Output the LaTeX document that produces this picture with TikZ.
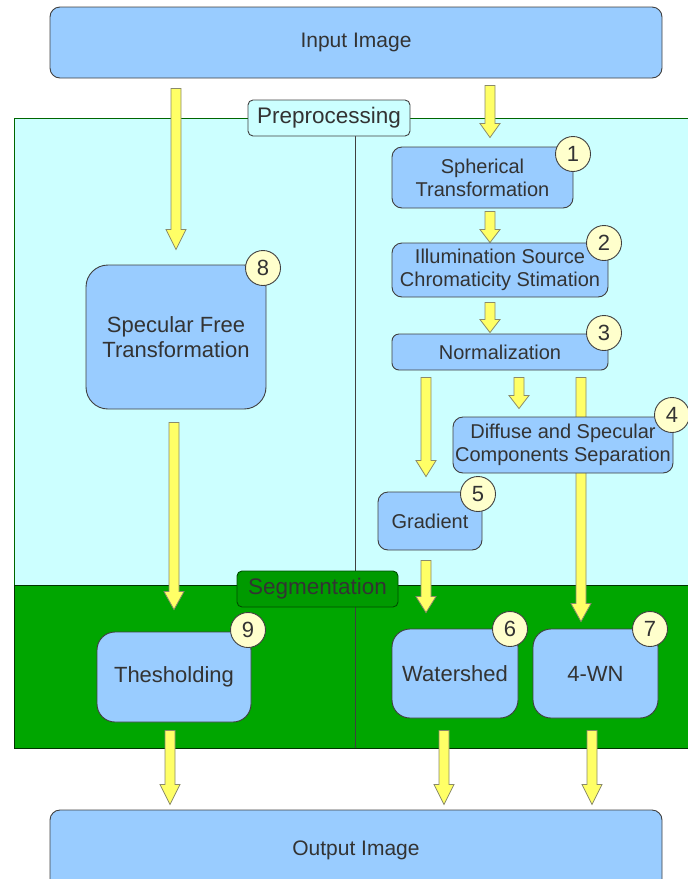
\documentclass[tikz,border=0pt]{standalone}
\usepackage{fontspec}
\setmainfont{Liberation Sans}
\definecolor{boxblue}{HTML}{99CCFF}
\definecolor{prepcyan}{HTML}{CCFFFF}
\definecolor{seggreen}{HTML}{00A600}
\definecolor{labgreen}{HTML}{009A00}
\definecolor{linegray}{HTML}{404040}
\definecolor{numyellow}{HTML}{FFFFCC}
\definecolor{arrowyellow}{HTML}{FFFF66}
\definecolor{arrowedge}{HTML}{8A8A6A}
\definecolor{textgray}{HTML}{333333}
\usetikzlibrary{calc,positioning}
\pgfdeclarelayer{regions}
\pgfdeclarelayer{arrows}
\pgfsetlayers{regions,arrows,main}
\tikzset{
  stage/.style={draw=linegray,line width=0.9pt,fill=boxblue,rounded corners=10pt,text=textgray,
    align=center,inner sep=0pt,font=\fontsize{20}{23}\selectfont},
  bigstage/.style={stage,rounded corners=22pt,font=\fontsize{22}{25}\selectfont},
  tag/.style={draw=linegray,line width=0.9pt,fill=numyellow,circle,minimum size=35pt,inner sep=0pt,
    text=textgray,font=\fontsize{22}{22}\selectfont},
  regionlabel/.style={draw=linegray,line width=0.9pt,rounded corners=5pt,minimum width=162pt,
    minimum height=36pt,inner sep=0pt,text=textgray,font=\fontsize{22.5}{22}\selectfont},
  flowarrow/.style={draw=arrowedge,fill=arrowyellow,line width=0.8pt,line join=miter}
}
% block arrow going down, shaft x taken from the start point
\newcommand{\flowarrow}[3][18pt]{%
  \path[flowarrow] let \p1=#2, \p2=#3 in
    (\x1-5pt,\y1) -- (\x1+5pt,\y1) -- (\x1+5pt,\y2+#1) -- (\x1+10pt,\y2+#1)
    -- (\x1,\y2) -- (\x1-10pt,\y2+#1) -- (\x1-5pt,\y2+#1) -- cycle;}
\begin{document}
\begin{tikzpicture}[x=1pt,y=-1pt]
  \useasboundingbox (0,0) rectangle (688,879);
  \clip (0,0) rectangle (688,879);
  % Input and output
  \node[stage,font=\fontsize{21}{24}\selectfont,minimum width=612pt,minimum height=71pt] (input) at (356,42.5) {Input Image};
  \node[stage,font=\fontsize{21}{24}\selectfont,minimum width=612pt,minimum height=80pt] (output) at (356,850) {Output Image};
  % Regions
  \begin{pgfonlayer}{regions}
    \draw[draw=black!60!green,line width=0.9pt,fill=prepcyan] (14,118) rectangle (700,585);
    \draw[draw=black!80!green,line width=0.9pt,fill=seggreen] (14,585) rectangle (700,748);
    \draw[linegray,line width=0.9pt] (355,118) -- (355,748);
  \end{pgfonlayer}
  \node[regionlabel,fill=prepcyan] (prep) at (329,118) {Preprocessing};
  \node[regionlabel,fill=labgreen,draw=black!70!green,minimum width=161pt] (seg) at (317.5,589) {Segmentation};
  % Preprocessing stages
  \node[stage,minimum width=181pt,minimum height=61pt] (sph) at (482.5,177.5) {Spherical\\Transformation};
  \node[stage,minimum width=216pt,minimum height=54pt] (illum) at (500,270) {Illumination Source\\Chromaticity Stimation};
  \node[stage,rounded corners=7pt,minimum width=216pt,minimum height=36pt] (norm) at (500,352) {Normalization};
  \node[stage,minimum width=220pt,minimum height=56pt] (diff) at (563,445) {Diffuse and Specular\\Components Separation};
  \node[stage,minimum width=104pt,minimum height=58pt] (grad) at (430,521) {Gradient};
  \node[bigstage,minimum width=180pt,minimum height=144pt] (spec) at (176,337) {Specular Free\\Transformation};
  % Segmentation stages
  \node[bigstage,rounded corners=18pt,minimum width=154pt,minimum height=90pt] (thresh) at (174,677) {Thesholding};
  \node[bigstage,rounded corners=18pt,minimum width=126pt,minimum height=89pt] (water) at (455,673.5) {Watershed};
  \node[bigstage,rounded corners=18pt,minimum width=125pt,minimum height=89pt] (wn) at (595.5,673.5) {4-WN};
  % Step numbers
  \node[tag] (n1) at (573,154) {1};
  \node[tag] (n2) at (604,243) {2};
  \node[tag] (n3) at (604,333) {3};
  \node[tag] (n4) at (672,415) {4};
  \node[tag] (n5) at (478,494) {5};
  \node[tag] (n6) at (510,629) {6};
  \node[tag] (n7) at (650,629) {7};
  \node[tag] (n8) at (263,268) {8};
  \node[tag] (n9) at (248,630) {9};
  % Arrows
  \begin{pgfonlayer}{arrows}
    \flowarrow[20pt]{($(input.south -| spec.north)+(0,10)$)}{($(spec.north)+(0,-15)$)}
    \flowarrow[14pt]{($(input.south -| sph.north)+(7.5,7)$)}{($(sph.north)+(7.5,-9)$)}
    \flowarrow[13pt]{($(sph.south)+(7.5,3)$)}{($(illum.north)+(-10,0)$)}
    \flowarrow[13pt]{($(illum.south)+(-10,5)$)}{($(norm.north)+(-10,-1)$)}
    \flowarrow[16pt]{($(norm.south -| grad.north)+(-4,7)$)}{($(grad.north)+(-4,-15)$)}
    \flowarrow[13pt]{($(norm.south)+(19,7)$)}{($(diff.north)+(-44,-8)$)}
    \flowarrow[18pt]{($(norm.south -| wn.north)+(-14.5,7)$)}{($(wn.north)+(-14.5,-7)$)}
    \flowarrow[16pt]{($(grad.south)+(-4,10)$)}{($(water.north)+(-29,-16)$)}
    \flowarrow[18pt]{($(spec.south)+(-2,13)$)}{($(thresh.north)+(0,-22)$)}
    \flowarrow[20pt]{($(thresh.south)+(-4,8)$)}{($(output.north -| thresh.south)+(-4,-5)$)}
    \flowarrow[20pt]{($(water.south)+(-11,12)$)}{($(output.north -| water.south)+(-11,-5)$)}
    \flowarrow[20pt]{($(wn.south)+(-3.5,12)$)}{($(output.north -| wn.south)+(-3.5,-5)$)}
  \end{pgfonlayer}
\end{tikzpicture}
\end{document}
